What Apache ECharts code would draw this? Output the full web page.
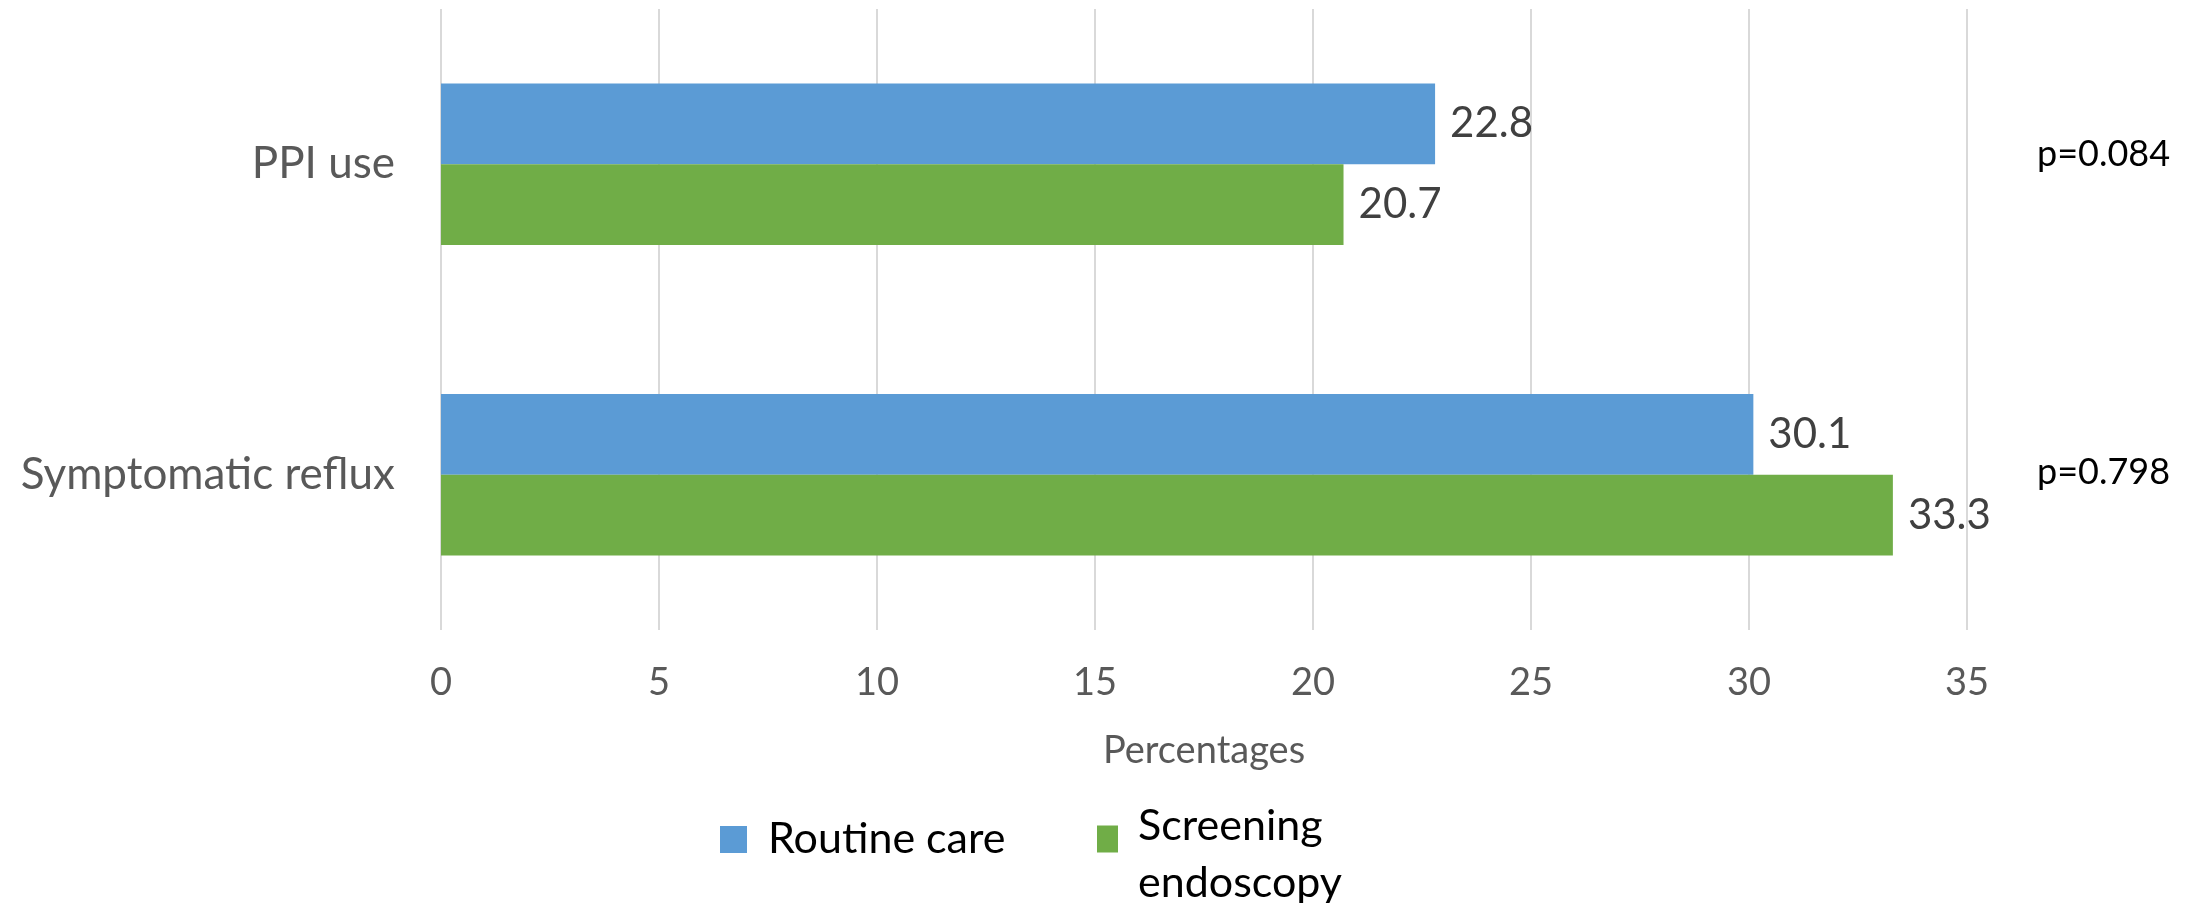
<!DOCTYPE html>
<html>
<head>
<meta charset="utf-8">
<style>
  html, body { margin: 0; padding: 0; background: #ffffff; }
  #chart { width: 2203px; height: 903px; }
</style>
<script src="https://cdn.jsdelivr.net/npm/echarts@6/dist/echarts.min.js"></script>
</head>
<body>
<div id="chart"></div>
<script>
// Outcome categories (top to bottom)
const categories = ['PPI use', 'Symptomatic reflux'];
// Percentages per group
const routineCare = [22.8, 30.1];
const screeningEndoscopy = [20.7, 33.3];
// Between-group p-values shown at the right edge
const pValues = ['p=0.084', 'p=0.798'];
// Value axis ticks
const axisMin = 0;
const axisMax = 35;
const axisStep = 5;

const FONT = 'Lato, "Liberation Sans", sans-serif';
const BLUE = '#5B9BD5';
const GREEN = '#70AD47';

const chart = echarts.init(document.getElementById('chart'), null, { renderer: 'canvas' });

const labelStyle = {
  show: true,
  position: 'right',
  distance: 15,
  color: '#404040',
  fontFamily: FONT,
  fontSize: 42
};

chart.setOption({
  animation: false,
  backgroundColor: '#ffffff',
  grid: { left: 441, right: 236, top: 9, bottom: 273 },
  xAxis: {
    type: 'value',
    min: axisMin,
    max: axisMax,
    interval: axisStep,
    name: 'Percentages',
    nameLocation: 'middle',
    nameGap: 102,
    nameTextStyle: { color: '#595959', fontFamily: FONT, fontSize: 38 },
    axisLine: { show: false },
    axisTick: { show: false },
    axisLabel: { color: '#595959', fontFamily: FONT, fontSize: 38, margin: 34 },
    splitLine: { show: true, lineStyle: { color: '#d9d9d9', width: 2 } }
  },
  yAxis: [
    {
      type: 'category',
      data: categories,
      inverse: true,
      axisLine: { show: false },
      axisTick: { show: false },
      axisLabel: { color: '#595959', fontFamily: FONT, fontSize: 44, margin: 46 }
    },
    {
      // p-values sit on a right-hand category axis, nudged slightly upward
      type: 'category',
      data: pValues,
      inverse: true,
      position: 'right',
      axisLine: { show: false },
      axisTick: { show: false },
      splitLine: { show: false },
      axisLabel: {
        margin: 70,
        verticalAlign: 'bottom',
        formatter: function (value, index) {
          return '{p' + index + '|' + value + '}';
        },
        rich: {
          p0: { color: '#000000', fontFamily: FONT, fontSize: 36, lineHeight: 20 },
          p1: { color: '#000000', fontFamily: FONT, fontSize: 36, lineHeight: 4 }
        }
      }
    }
  ],
  legend: [
    {
      data: ['Routine care'],
      left: 720,
      top: 818,
      padding: 0,
      icon: 'rect',
      itemWidth: 27,
      itemHeight: 27,
      textStyle: { color: '#000000', fontFamily: FONT, fontSize: 43, padding: [0, 0, 0, 16] }
    },
    {
      data: ['Screening endoscopy'],
      left: 1097,
      top: 805,
      padding: 0,
      icon: 'rect',
      itemWidth: 21,
      itemHeight: 27,
      // two-line label; the first line sits low in a taller line box so it
      // lines up with the swatch
      formatter: function (name) {
        const parts = name.split(' ');
        return '{l1|' + parts[0] + '}\n{l2|' + parts[1] + '}';
      },
      textStyle: {
        color: '#000000', fontFamily: FONT, fontSize: 43,
        padding: [0, 0, 0, 15],
        rich: {
          l1: { color: '#000000', fontFamily: FONT, fontSize: 43, lineHeight: 89, verticalAlign: 'bottom' },
          l2: { color: '#000000', fontFamily: FONT, fontSize: 43, lineHeight: 71 }
        }
      }
    }
  ],
  series: [
    {
      name: 'Routine care',
      type: 'bar',
      data: routineCare,
      barGap: '0%',
      barCategoryGap: '48%',
      itemStyle: { color: BLUE },
      label: labelStyle
    },
    {
      name: 'Screening endoscopy',
      type: 'bar',
      data: screeningEndoscopy,
      barGap: '0%',
      barCategoryGap: '48%',
      itemStyle: { color: GREEN },
      label: labelStyle
    }
  ]
});
</script>
</body>
</html>
